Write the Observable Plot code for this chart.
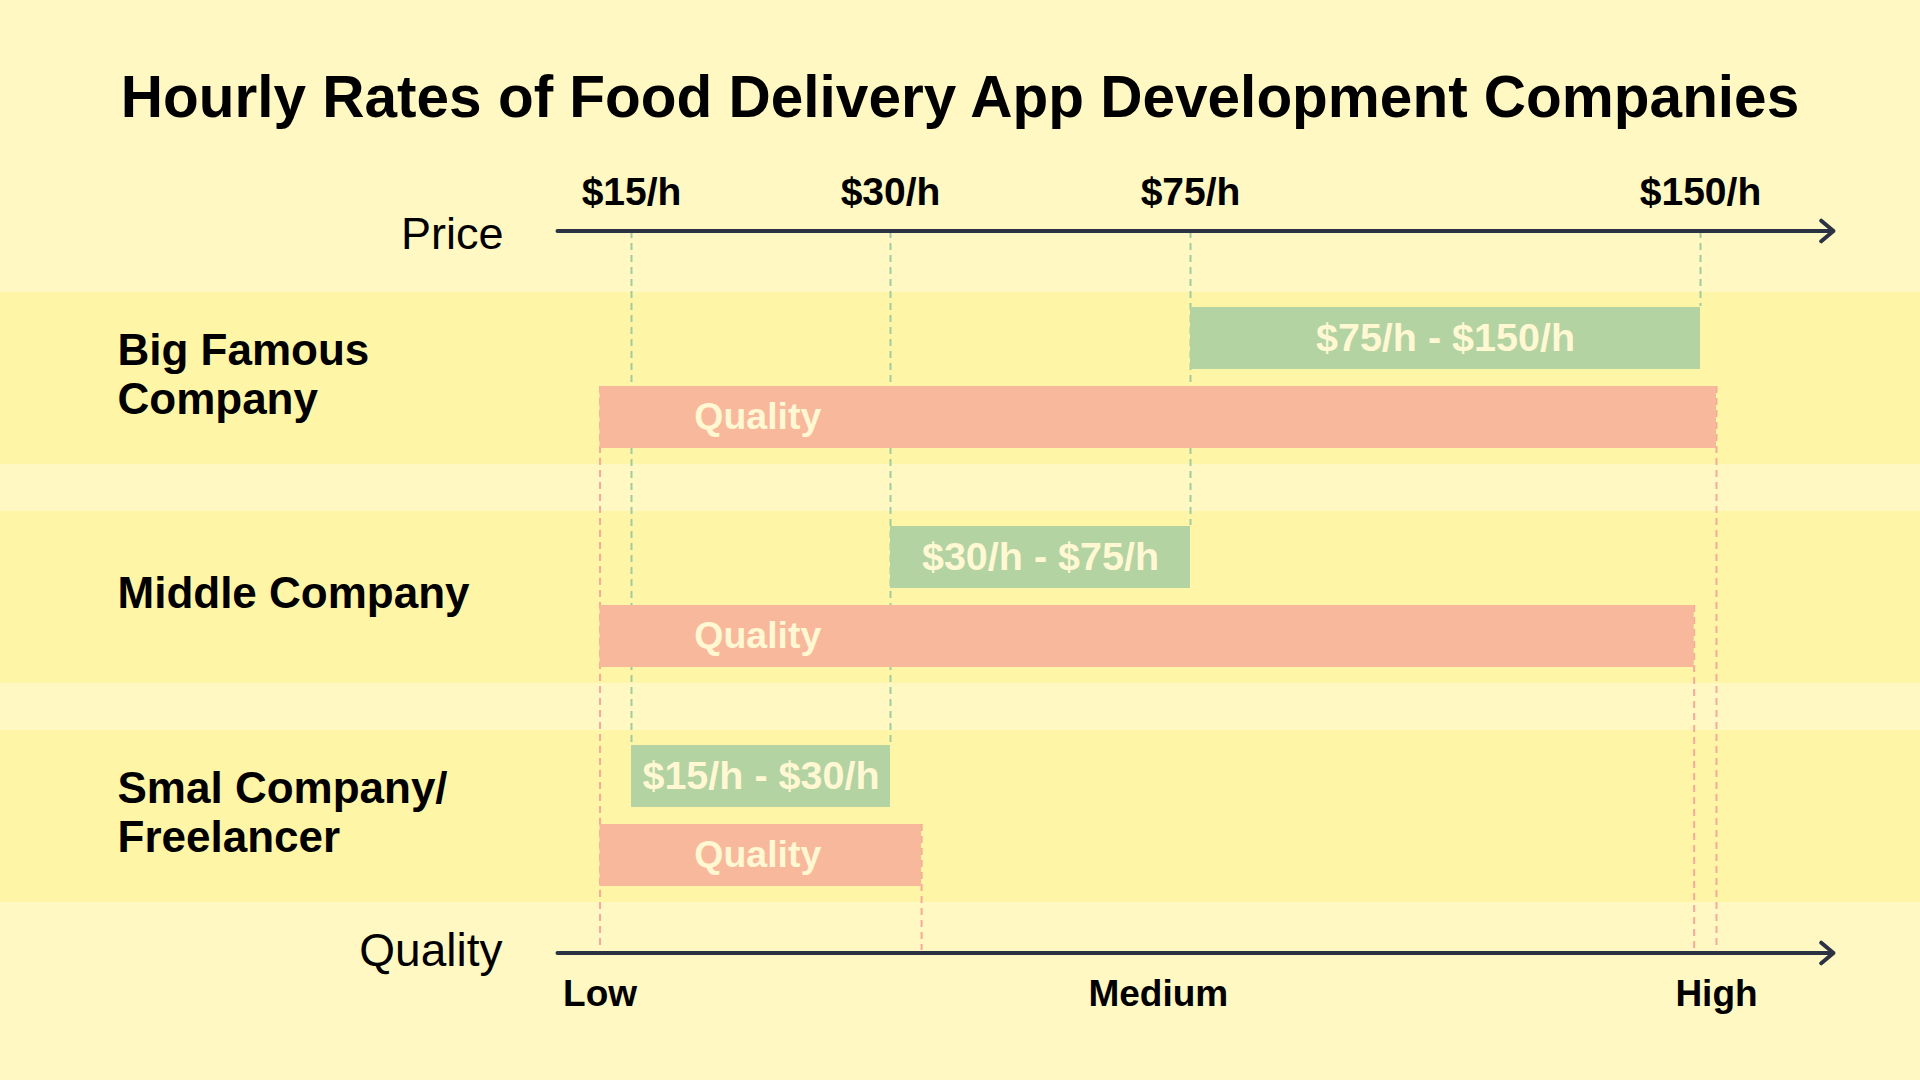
<!DOCTYPE html>
<html>
<head>
<meta charset="utf-8">
<script src="https://cdn.jsdelivr.net/npm/d3@7"></script>
<script src="https://cdn.jsdelivr.net/npm/@observablehq/plot@0.6"></script>
<style>
  html, body { margin: 0; padding: 0; background: #FFF8C2; }
  #wrap { position: relative; width: 1920px; height: 1080px; overflow: hidden; background: #FFF8C2;
          font-family: "Liberation Sans", Arial, Helvetica, sans-serif; }
  #title { position: absolute; left: 0; top: 62px; width: 1920px; text-align: center;
           font-size: 58.5px; line-height: 70px; font-weight: bold; color: #000; }
  #wrap svg { position: absolute; left: 0; top: 0; }
</style>
</head>
<body>
<div id="wrap">
  <div id="title">Hourly Rates of Food Delivery App Development Companies</div>
</div>
<script>
// ---------------- data ----------------
const companies = ["Big Famous\nCompany", "Middle Company", "Smal Company/\nFreelancer"];
const priceLow = [75, 30, 15];
const priceHigh = [150, 75, 30];
const priceRangeLabels = ["$75/h - $150/h", "$30/h - $75/h", "$15/h - $30/h"];
const qualityLow = [0, 0, 0];
const qualityHigh = [10, 9.8, 2.88];
const qualityBarLabel = "Quality";
const priceTicks = [15, 30, 75, 150];
const priceTickLabels = ["$15/h", "$30/h", "$75/h", "$150/h"];
const qualityTicks = [0, 5, 10];
const qualityTickLabels = ["Low", "Medium", "High"];
const priceAxisTitle = "Price";
const qualityAxisTitle = "Quality";

// ---------------- layout / style ----------------
const W = 1920, H = 1080;
const FONT = "Liberation Sans, Arial, Helvetica, sans-serif";
const BG_BAND = "#FFF5A6";
const GREEN = "#B3D3A3";
const PINK = "#F8B89B";
const GREEN_DASH = "#9FCB9E";
const PINK_DASH = "#F5AA9A";
const AXIS = "#2B3244";
const BAR_TEXT = "#FFF8D2";
const axisTop = 230, axisBottom = 952;
const bandRange = [291, 904];
const padInner = 0.2136;
const step = (bandRange[1] - bandRange[0]) / (companies.length - padInner);
const bw = step * (1 - padInner);
const greenTop = 15, greenBottom = 78, pinkTop = 94, pinkBottom = 157;
const priceRange = [631, 890, 1190, 1700];
const axisLeft = 557, axisRight = 1833;
const qDomain = [-0.381, 11.048];

const rows = companies.map((c, i) => ({
  company: c, i,
  pLo: priceLow[i], pHi: priceHigh[i], pLabel: priceRangeLabels[i],
  qLo: qualityLow[i], qHi: qualityHigh[i]
}));

// price edges: dashed guide runs from the price axis down to the lowest bar that uses that edge
const priceEdges = d3.rollups(
  rows.flatMap(r => [{v: r.pLo, r}, {v: r.pHi, r}]),
  g => d3.greatest(g, d => d.r.i), d => d.v
).map(([v, d]) => ({v, from: companies[0], to: d.r.company}));

// quality edges: dashed guide runs from the topmost bar that uses that edge down to the quality axis
const qualityEdges = d3.rollups(
  rows.flatMap(r => [{v: r.qLo, r}, {v: r.qHi, r}]),
  g => d3.least(g, d => d.r.i), d => d.v
).map(([v, d]) => ({v, from: d.r.company, to: companies[companies.length - 1]}));

const qLabelX = (d3.min(qualityLow) + d3.min(qualityHigh)) / 2;

const yScale = {type: "band", domain: companies, range: bandRange, paddingInner: padInner, paddingOuter: 0, axis: null};
const bandCenterOffset = bw / 2;

// ---------------- price layer (bottom) ----------------
const pricePlot = Plot.plot({
  width: W, height: H,
  marginTop: axisTop, marginBottom: H - axisBottom, marginLeft: 0, marginRight: 0,
  style: {background: "transparent", fontFamily: FONT, overflow: "visible"},
  x: {type: "linear", domain: priceTicks, range: priceRange, axis: null},
  y: yScale,
  marks: [
    Plot.cell(companies, {y: d => d, fill: BG_BAND}),
    Plot.ruleX(priceEdges, {x: "v", y1: "from", y2: "to",
      insetTop: axisTop - bandRange[0], insetBottom: bw - greenTop,
      stroke: GREEN_DASH, strokeWidth: 2, strokeDasharray: "7,5"}),
    Plot.barX(rows, {x1: "pLo", x2: "pHi", y: "company", fill: GREEN,
      insetTop: greenTop, insetBottom: bw - greenBottom}),
    Plot.text(rows, {x: d => (d.pLo + d.pHi) / 2, y: "company", text: "pLabel",
      dy: (greenTop + greenBottom) / 2 - bandCenterOffset, lineAnchor: "middle",
      fill: BAR_TEXT, fontSize: 39.5, fontWeight: "bold"}),
    Plot.text(priceTicks, {x: d => d, text: (d, i) => priceTickLabels[i], frameAnchor: "top",
      lineAnchor: "middle", dy: -38, fill: "#000", fontSize: 39, fontWeight: "bold"}),
    Plot.text(companies, {y: d => d, text: d => d, frameAnchor: "left", textAnchor: "start",
      lineAnchor: "middle", dx: 117, dy: -5, fill: "#000", fontSize: 44, fontWeight: "bold", lineHeight: 1.12}),
    Plot.text([priceAxisTitle], {text: d => d, frameAnchor: "top-left", textAnchor: "end",
      lineAnchor: "middle", dx: 503, dy: 4, fill: "#000", fontSize: 45}),
    Plot.text([qualityAxisTitle], {text: d => d, frameAnchor: "bottom-left", textAnchor: "end",
      lineAnchor: "middle", dx: 502, dy: -1, fill: "#000", fontSize: 46})
  ]
});

// ---------------- quality layer (top) ----------------
const qualityPlot = Plot.plot({
  width: W, height: H,
  marginTop: axisTop, marginBottom: H - axisBottom, marginLeft: axisLeft, marginRight: W - axisRight,
  style: {background: "transparent", fontFamily: FONT, overflow: "visible"},
  x: {type: "linear", domain: qDomain, axis: null},
  y: yScale,
  marks: [
    Plot.ruleX(qualityEdges, {x: "v", y1: "from", y2: "to",
      insetTop: pinkTop, insetBottom: bandRange[1] - axisBottom,
      stroke: PINK_DASH, strokeWidth: 2, strokeDasharray: "7,5"}),
    Plot.barX(rows, {x1: "qLo", x2: "qHi", y: "company", fill: PINK,
      insetTop: pinkTop, insetBottom: bw - pinkBottom}),
    Plot.text(rows, {x: () => qLabelX, y: "company", text: () => qualityBarLabel,
      dy: (pinkTop + pinkBottom) / 2 - bandCenterOffset, dx: -3, lineAnchor: "middle",
      fill: BAR_TEXT, fontSize: 37.5, fontWeight: "bold"}),
    // axis lines with arrow heads
    Plot.arrow([{}], {x1: () => qDomain[0], x2: () => qDomain[1], y1: () => companies[0], y2: () => companies[0],
      dy: axisTop - (bandRange[0] + bandCenterOffset), stroke: AXIS, strokeWidth: 4, headLength: 6, headAngle: 80}),
    Plot.arrow([{}], {x1: () => qDomain[0], x2: () => qDomain[1], y1: () => companies[0], y2: () => companies[0],
      dy: axisBottom - (bandRange[0] + bandCenterOffset), stroke: AXIS, strokeWidth: 4, headLength: 6, headAngle: 80}),
    Plot.text(qualityTicks, {x: d => d, text: (d, i) => qualityTickLabels[i], frameAnchor: "bottom",
      lineAnchor: "middle", dy: 42, fill: "#000", fontSize: 37, fontWeight: "bold"})
  ]
});

const wrap = document.getElementById("wrap");
wrap.appendChild(pricePlot);
wrap.appendChild(qualityPlot);
</script>
</body>
</html>
